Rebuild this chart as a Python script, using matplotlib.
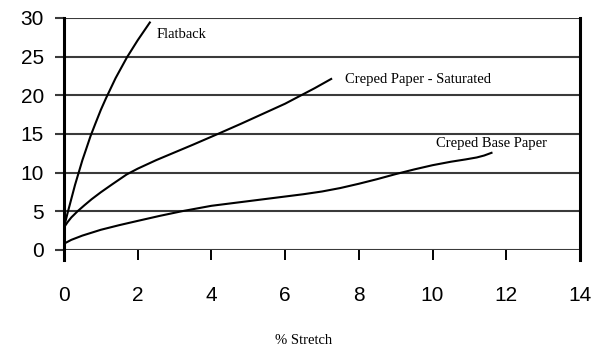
import matplotlib
matplotlib.use("Agg")
import matplotlib.pyplot as plt

# curve values (x = % stretch)
flatback_x = [0, 0.1, 0.2, 0.3, 0.4, 0.5, 0.6, 0.72, 0.85, 1.0, 1.14, 1.4, 1.71, 2.0, 2.33]
flatback_y = [2.9, 4.8, 6.6, 8.4, 10.0, 11.6, 13.0, 14.7, 16.3, 18.1, 19.6, 22.2, 24.9, 27.1, 29.4]

saturated_x = [0, 0.1, 0.2, 0.37, 0.55, 0.75, 1.0, 1.3, 1.7, 2.0, 2.5, 3.0, 3.5, 4.18,
               4.8, 5.4, 6.0, 6.4, 6.8, 7.25]
saturated_y = [2.9, 3.6, 4.2, 5.0, 5.75, 6.55, 7.45, 8.45, 9.75, 10.5, 11.6, 12.6, 13.6, 15.0,
               16.3, 17.6, 18.9, 19.9, 20.9, 22.1]

base_x = [0, 0.2, 0.5, 1.0, 1.5, 2.0, 2.6, 3.2, 3.6, 4.0, 4.5, 5.0, 5.5, 6.0, 6.5, 7.0,
          7.5, 8.0, 8.5, 9.0, 9.5, 10.0, 10.5, 10.9, 11.2, 11.4, 11.6]
base_y = [0.8, 1.3, 1.85, 2.6, 3.2, 3.75, 4.4, 5.0, 5.35, 5.7, 6.0, 6.3, 6.6, 6.9, 7.2, 7.55,
          8.0, 8.55, 9.15, 9.8, 10.4, 10.95, 11.4, 11.7, 11.95, 12.2, 12.55]

x_ticks = [0, 2, 4, 6, 8, 10, 12, 14]
y_ticks = [0, 5, 10, 15, 20, 25, 30]

fig = plt.figure(figsize=(6.15, 3.5), dpi=100)
ax = fig.add_axes([0.104, 0.286, 0.839, 0.663])

grid_col = "#3a3a3a"
for v in y_ticks:
    ax.axhline(v, color=grid_col, lw=1.5, zorder=1)

ax.plot(flatback_x, flatback_y, color="black", lw=1.5, zorder=3)
ax.plot(saturated_x, saturated_y, color="black", lw=1.5, zorder=3)
ax.plot(base_x, base_y, color="black", lw=1.5, zorder=3)

serif = {"family": "Liberation Serif", "size": 10.5}
ax.text(2.52, 27.9, "Flatback", fontdict=serif, va="center", ha="left")
ax.text(7.62, 22.0, "Creped Paper - Saturated", fontdict=serif, va="center", ha="left")
ax.text(10.09, 13.7, "Creped Base Paper", fontdict=serif, va="center", ha="left")

ax.set_xlim(0, 14)
ax.set_ylim(0, 30)
ax.set_xticks(x_ticks)
ax.set_yticks(y_ticks)
ax.set_xticklabels([str(v) for v in x_ticks], family="Liberation Sans", fontsize=15)
ax.set_yticklabels([str(v) for v in y_ticks], family="Liberation Sans", fontsize=15)
ax.tick_params(axis="x", direction="out", length=7, width=1.4, color="black", pad=19)
ax.tick_params(axis="y", direction="out", length=6.5, width=1.5, color=grid_col, pad=8)

for s in ["top", "bottom"]:
    ax.spines[s].set_visible(False)
for s in ["left", "right"]:
    ax.spines[s].set_linewidth(2.2)
    ax.spines[s].set_bounds(-1.3, 30)

fig.text(304 / 615, 1 - 340 / 350, "% Stretch", fontdict=serif, ha="center", va="center")

fig.savefig("out.png", dpi=100)
